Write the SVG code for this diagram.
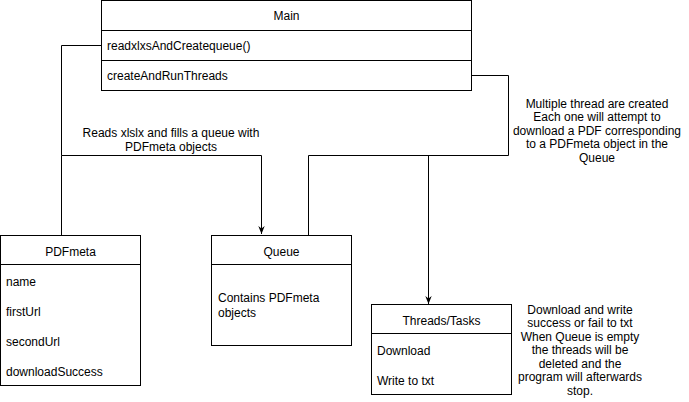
<svg xmlns="http://www.w3.org/2000/svg" width="689" height="402" viewBox="0 0 689 402">
<style>
  .box{fill:#fff;stroke:#000;stroke-width:1}
  .ln{fill:none;stroke:#000;stroke-width:1}
  text{font-family:"Liberation Sans",Arial,Helvetica,sans-serif;font-size:12px;fill:#000}
  .c{text-anchor:middle}
</style>
<defs>
  <marker id="arr" viewBox="0 0 10 10" refX="10" refY="5" markerWidth="8" markerHeight="8" markerUnits="userSpaceOnUse" orient="auto">
    <path d="M0,1 L10,5 L0,9 L3,5 Z" fill="#000"/>
  </marker>
</defs>
<rect width="689" height="402" fill="#fff"/>
<g id="connectors">
  <path class="ln" d="M101.5,45.5 H61.5 V155.5 H261.5 V234" marker-end="url(#arr)"/>
  <path class="ln" d="M61.5,155.5 V235"/>
  <path class="ln" d="M471.5,75.5 H508.5 V155.5 H308.5 V235"/>
  <path class="ln" d="M428.5,155.5 V304" marker-end="url(#arr)"/>
</g>
<g id="main">
  <rect class="box" x="101.5" y="0.5" width="370" height="90"/>
  <line class="ln" x1="101.5" y1="30.5" x2="471.5" y2="30.5"/>
  <line class="ln" x1="101.5" y1="60.5" x2="471.5" y2="60.5"/>
  <text class="c" x="286.5" y="20">Main</text>
  <text x="107" y="49.5">readxlxsAndCreatequeue()</text>
  <text x="107" y="79.5">createAndRunThreads</text>
</g>
<g id="label-reads">
  <text class="c" x="171" y="137">Reads xlslx and fills a queue with</text>
  <text class="c" x="171" y="151">PDFmeta objects</text>
</g>
<g id="label-threads">
  <text class="c" x="597" y="107.5">Multiple thread are created</text>
  <text class="c" x="597" y="121">Each one will attempt to</text>
  <text class="c" x="597" y="134.5">download a PDF corresponding</text>
  <text class="c" x="597" y="148">to a PDFmeta object in the</text>
  <text class="c" x="597" y="161.5">Queue</text>
</g>
<g id="pdfmeta">
  <rect class="box" x="0.5" y="235.5" width="140" height="150"/>
  <line class="ln" x1="0.5" y1="264.5" x2="140.5" y2="264.5"/>
  <text class="c" x="70.5" y="256">PDFmeta</text>
  <text x="6" y="285.5">name</text>
  <text x="6" y="315.5">firstUrl</text>
  <text x="6" y="345.5">secondUrl</text>
  <text x="6" y="375.5">downloadSuccess</text>
</g>
<g id="queue">
  <rect class="box" x="211.5" y="235.5" width="140" height="110"/>
  <line class="ln" x1="211.5" y1="264.5" x2="351.5" y2="264.5"/>
  <text class="c" x="281.5" y="256">Queue</text>
  <text x="218" y="302">Contains PDFmeta</text>
  <text x="218" y="317">objects</text>
</g>
<g id="threads">
  <rect class="box" x="371.5" y="304.5" width="140" height="90"/>
  <line class="ln" x1="371.5" y1="333.5" x2="511.5" y2="333.5"/>
  <text class="c" x="441.5" y="325">Threads/Tasks</text>
  <text x="377" y="354.5">Download</text>
  <text x="377" y="384.5">Write to txt</text>
</g>
<g id="label-download">
  <text class="c" x="580" y="313.5">Download and write</text>
  <text class="c" x="580" y="327">success or fail to txt</text>
  <text class="c" x="580" y="340.5">When Queue is empty</text>
  <text class="c" x="580" y="354">the threads will be</text>
  <text class="c" x="580" y="367.5">deleted and the</text>
  <text class="c" x="580" y="381">program will afterwards</text>
  <text class="c" x="580" y="394.5">stop.</text>
</g>
</svg>
